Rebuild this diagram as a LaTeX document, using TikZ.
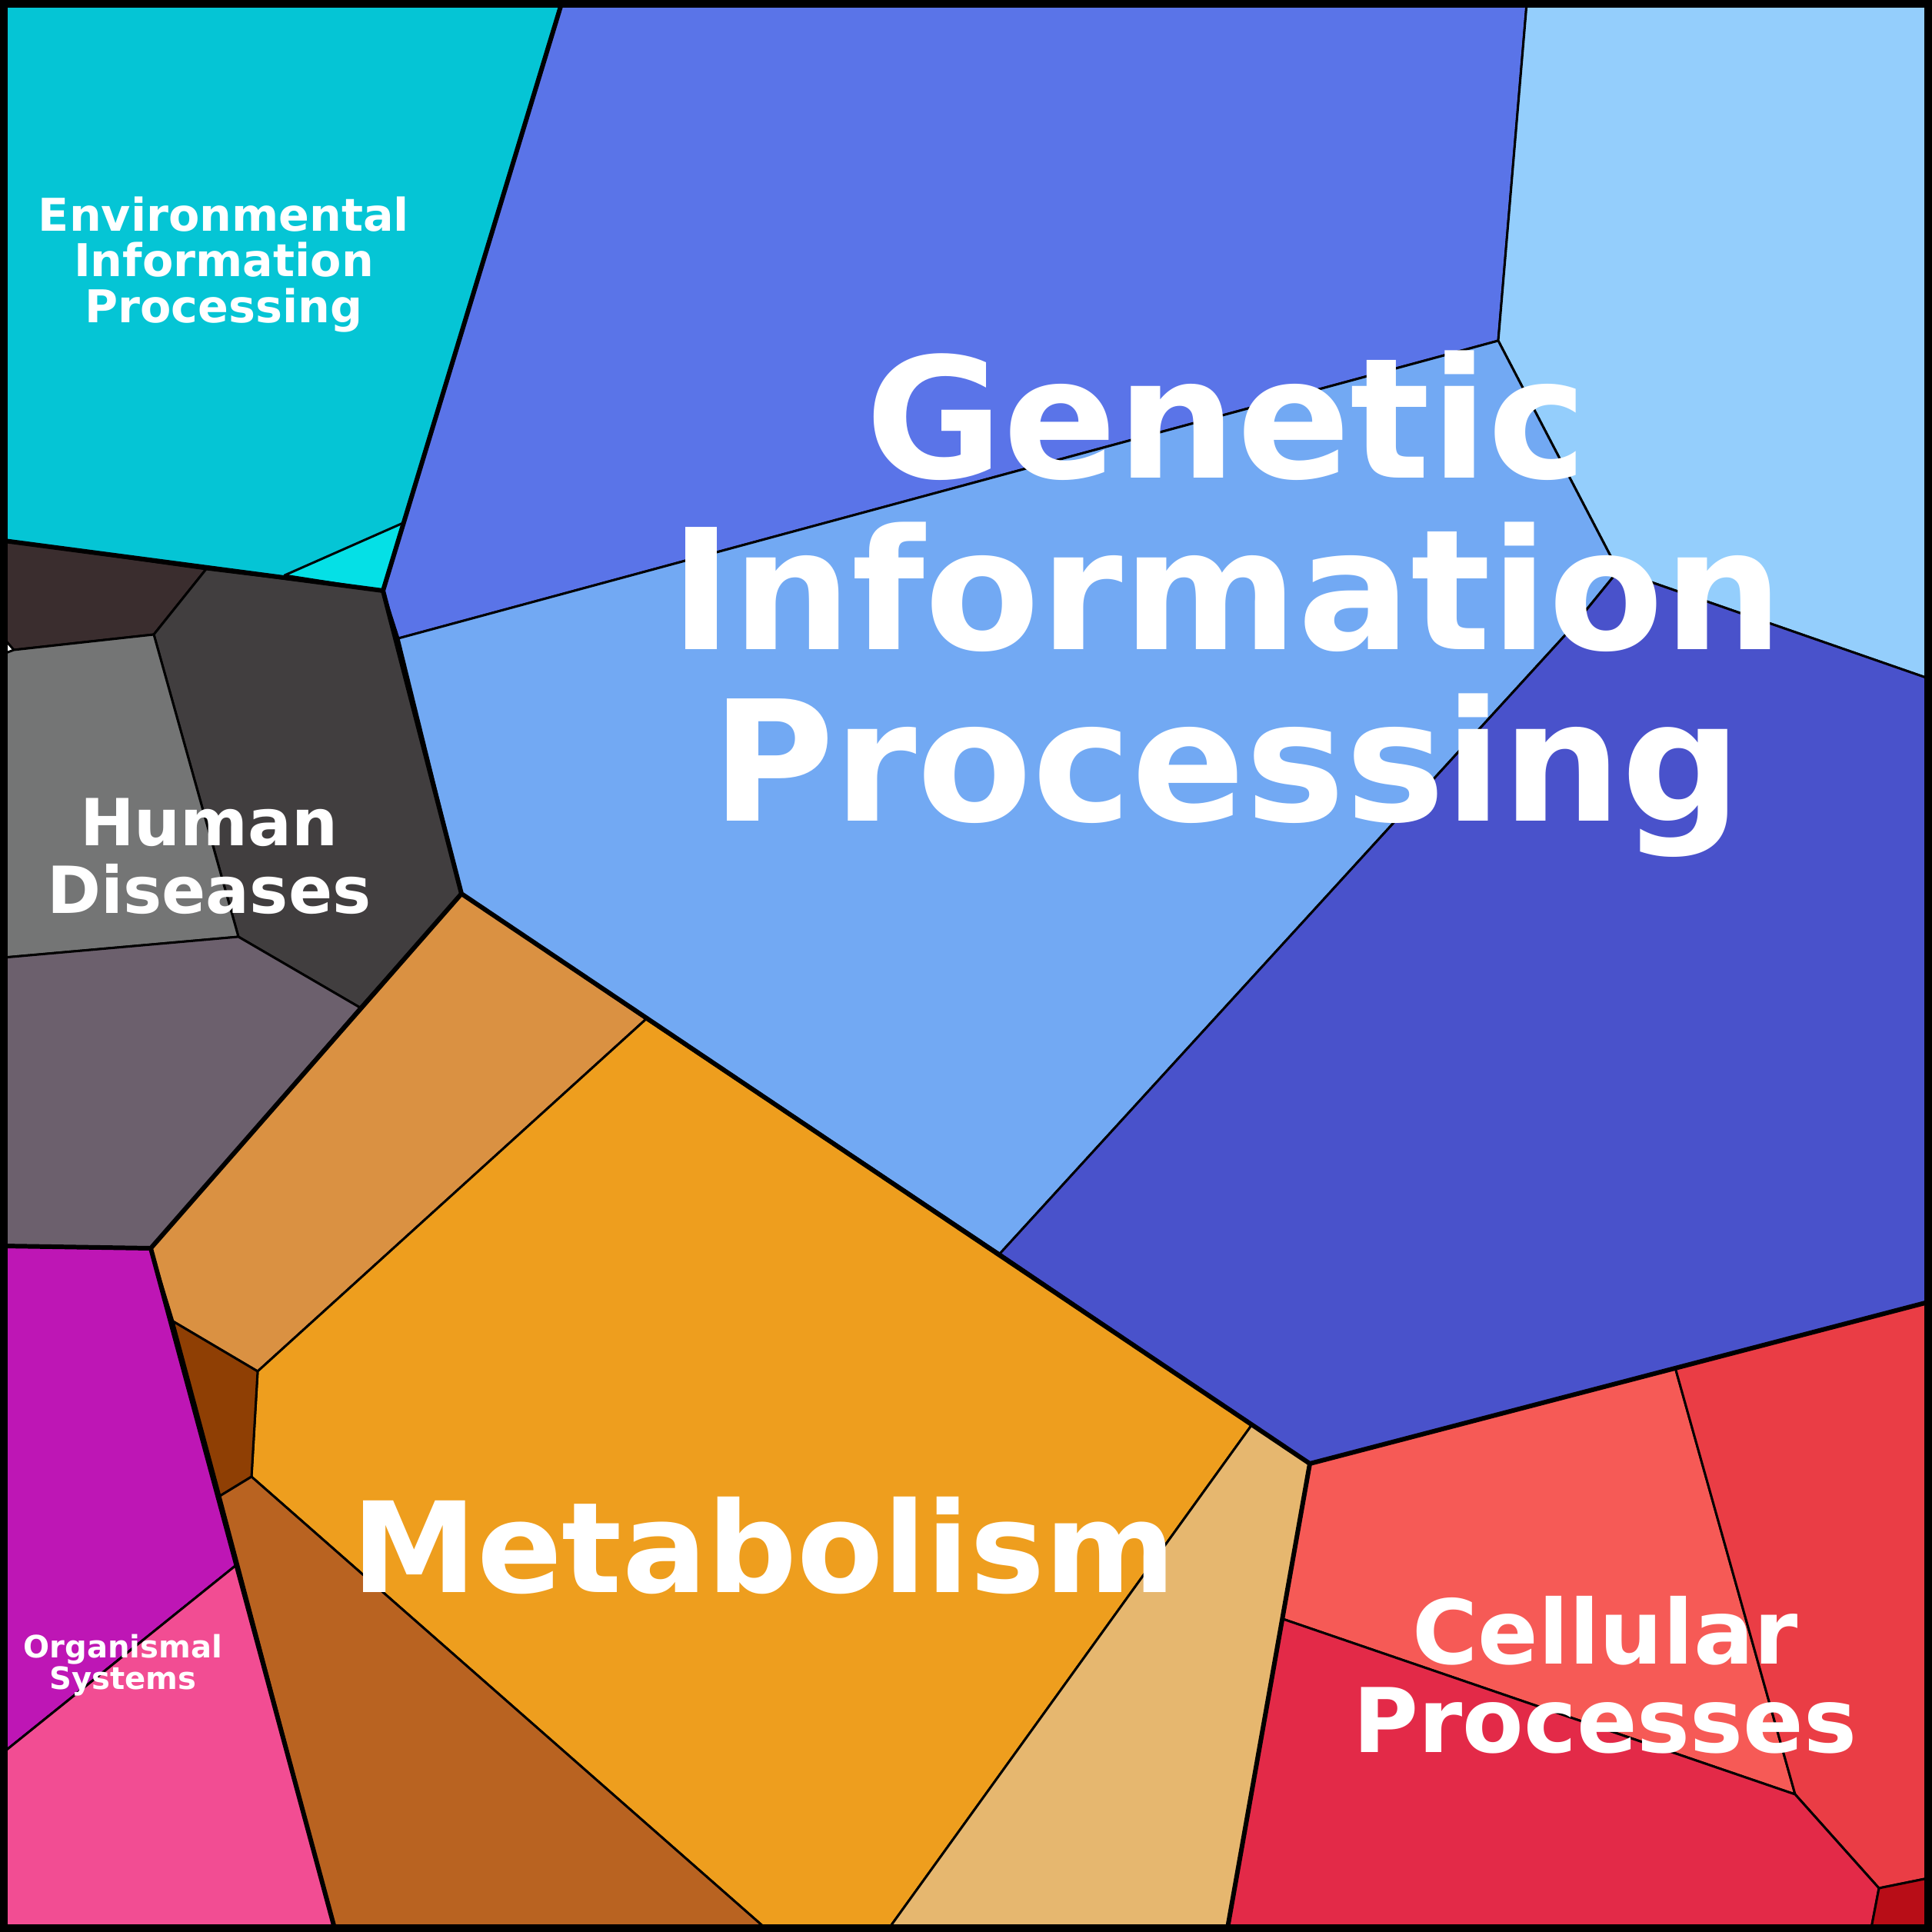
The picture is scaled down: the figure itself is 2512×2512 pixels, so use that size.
\documentclass[tikz,border=0pt]{standalone}
\usepackage{fontspec}
\setmainfont{DejaVu Sans}
\usepackage{tikz}
\definecolor{envcol}{HTML}{05C5D5}
\definecolor{envsmall}{HTML}{05E0E6}
\definecolor{gentop}{HTML}{5A74E8}
\definecolor{genlight}{HTML}{72A9F3}
\definecolor{gensky}{HTML}{94CEFC}
\definecolor{gendark}{HTML}{4952CB}
\definecolor{metatan}{HTML}{DA9142}
\definecolor{metaorange}{HTML}{EE9E1E}
\definecolor{metalight}{HTML}{E6B76F}
\definecolor{metadark}{HTML}{8F3F04}
\definecolor{metabrown}{HTML}{B96321}
\definecolor{humblack}{HTML}{3A2D2E}
\definecolor{humdark}{HTML}{413E3F}
\definecolor{humgray}{HTML}{747575}
\definecolor{hummauve}{HTML}{6C606D}
\definecolor{orgmag}{HTML}{BE16B5}
\definecolor{orgpink}{HTML}{F24D93}
\definecolor{celsalmon}{HTML}{F65A56}
\definecolor{celred}{HTML}{EA3D45}
\definecolor{celcrimson}{HTML}{E32A48}
\definecolor{celdark}{HTML}{B80D17}
\tikzset{cell/.style={draw=black, line width=0.85pt, line join=round},
  group/.style={draw=black, line width=1.7pt, line join=round},
  lbl/.style={text=white, font=\bfseries, align=center, inner sep=0pt}}
\begin{document}
\begin{tikzpicture}[x=0.01cm, y=-0.01cm]
  \useasboundingbox (0,0) rectangle (2512,2512);
  % environmental
  \path[cell, fill=envcol] (5,5) -- (730,5) -- (498,768) -- (5,703) -- cycle;
  \path[cell, fill=envsmall] (370,748) -- (524,680) -- (498,768) -- cycle;
  % genetic
  \path[cell, fill=gentop] (730,5) -- (1985,5) -- (1948,443) -- (518,830) -- (498,768) -- cycle;
  \path[cell, fill=gensky] (1985,5) -- (2507,5) -- (2507,882) -- (2104,742) -- (1948,443) -- cycle;
  \path[cell, fill=genlight] (518,830) -- (1948,443) -- (2104,742) -- (2043,817) -- (1300,1630) -- (600,1162) -- cycle;
  \path[cell, fill=gendark] (2104,742) -- (2507,882) -- (2507,1693) -- (1703,1903) -- (1300,1630) -- (2043,817) -- cycle;
  % metabolism
  \path[cell, fill=metatan] (600,1162) -- (840,1325) -- (335,1783) -- (225,1718) -- (196,1623) -- cycle;
  \path[cell, fill=metaorange] (840,1325) -- (1628,1852) -- (1156,2507) -- (995,2507) -- (327,1920) -- (335,1783) -- cycle;
  \path[cell, fill=metalight] (1628,1852) -- (1703,1903) -- (1596,2507) -- (1156,2507) -- cycle;
  \path[cell, fill=metadark] (225,1718) -- (335,1783) -- (327,1920) -- (286,1945) -- cycle;
  \path[cell, fill=metabrown] (286,1945) -- (327,1920) -- (995,2507) -- (435,2507) -- cycle;
  % human diseases
  \path[cell, fill=humblack] (5,703) -- (268,740) -- (200,825) -- (18,845) -- (5,830) -- cycle;
  \path[cell, fill=humdark] (268,740) -- (498,768) -- (600,1162) -- (468,1310) -- (310,1218) -- (200,825) -- cycle;
  \path[cell, fill=humgray] (5,850) -- (18,845) -- (200,825) -- (310,1218) -- (5,1245) -- cycle;
  \path[cell, fill=hummauve] (5,1245) -- (310,1218) -- (468,1310) -- (196,1623) -- (5,1620) -- cycle;
  % organismal
  \path[cell, fill=orgmag] (5,1620) -- (196,1623) -- (307,2035) -- (5,2278) -- cycle;
  \path[cell, fill=orgpink] (5,2278) -- (307,2035) -- (435,2507) -- (5,2507) -- cycle;
  % cellular
  \path[cell, fill=celsalmon] (1703,1903) -- (2178,1778) -- (2334,2333) -- (1668,2105) -- cycle;
  \path[cell, fill=celred] (2178,1778) -- (2507,1693) -- (2507,2442) -- (2443,2455) -- (2334,2333) -- cycle;
  \path[cell, fill=celcrimson] (1668,2105) -- (2334,2333) -- (2443,2455) -- (2433,2507) -- (1596,2507) -- cycle;
  \path[cell, fill=celdark] (2443,2455) -- (2507,2442) -- (2507,2507) -- (2433,2507) -- cycle;
  % group borders
  \draw[group] (5,703) -- (498,768) -- (730,5);
  \draw[group] (498,768) -- (600,1162) -- (1703,1903) -- (2507,1693);
  \draw[group] (1703,1903) -- (1596,2507);
  \draw[group] (600,1162) -- (196,1623) -- (435,2507);
  \draw[group] (196,1623) -- (5,1620);
  \draw[black, line width=2.8pt] (5,5) rectangle (2507,2507);
  % labels
  \node[lbl, font=\bfseries\fontsize{62}{63.5}\selectfont] (genetic) at (1595,785) {Genetic\\Information\\Processing};
  \node[lbl, font=\bfseries\fontsize{46.5}{50}\selectfont] (metabolism) at (993,2010) {Metabolism};
  \node[lbl, font=\bfseries\fontsize{33}{32.7}\selectfont] (cellular) at (2087,2178) {Cellular\\Processes};
  \node[lbl, font=\bfseries\fontsize{24}{25}\selectfont] (human) at (272,1113) {Human\\Diseases};
  \node[lbl, font=\bfseries\fontsize{16.7}{16.8}\selectfont] (environmental) at (291,344) {Environmental\\Information\\Processing};
  \node[lbl, font=\bfseries\fontsize{11.4}{11.8}\selectfont] (organismal) at (160,2165) {Organismal\\Systems};
\end{tikzpicture}
\end{document}
